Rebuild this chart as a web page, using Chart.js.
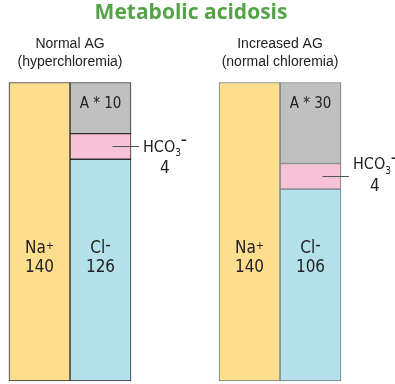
<!DOCTYPE html>
<html>
<head>
<meta charset="utf-8">
<script src="https://cdn.jsdelivr.net/npm/chart.js@4.4.1/dist/chart.umd.min.js"></script>
<style>
  html, body { margin: 0; padding: 0; background: #fff; }
</style>
</head>
<body>
<canvas id="chart" width="395" height="384"></canvas>
<script>
// groups (shown above the columns)
const groups = [['Normal AG', '(hyperchloremia)'], ['Increased AG', '(normal chloremia)']];

// printed values, mEq/L
const naValues = [140, 140];
const clValues = [126, 106];
const hco3Values = [4, 4];
const gapValues = [10, 30];

// segment heights as drawn in the picture (schematic, Na column = 140)
const naHeights = [140, 140];
const clHeights = [104, 90];
const hco3Heights = [12, 12];
const gapHeights = [24, 38];

const NARROW = "'Liberation Sans Narrow', 'DejaVu Sans Condensed', 'Liberation Sans', sans-serif";
const borders = ['#2e2e2e', '#707c7c'];

// text with a small raised/lowered part after it, centred on cx
function drawParts(ctx, parts, cx, cy) {
    let total = 0;
    parts.forEach(p => {
        ctx.font = p.font;
        p.w = ctx.measureText(p.text).width;
        total += p.w;
    });
    let x = cx - total / 2;
    ctx.textAlign = 'left';
    parts.forEach(p => {
        ctx.font = p.font;
        ctx.fillText(p.text, x, cy + (p.dy || 0));
        x += p.w;
    });
    return total;
}

const barLabels = {
    id: 'barLabels',
    afterDatasetsDraw(chart) {
        const ctx = chart.ctx;
        const na = chart.getDatasetMeta(0).data;
        const cl = chart.getDatasetMeta(1).data;
        const hc = chart.getDatasetMeta(2).data;
        const ag = chart.getDatasetMeta(3).data;
        const hcoShift = [1, -11];

        ctx.save();
        ctx.fillStyle = '#222';
        ctx.textBaseline = 'middle';

        for (let i = 0; i < groups.length; i++) {
            const mid = (na[i].y + na[i].base) / 2;
            const row1 = mid + 17;
            const row2 = mid + 36;

            // Na+
            drawParts(ctx, [
                { text: 'Na', font: '17px ' + NARROW },
                { text: '+', font: '11px ' + NARROW, dy: -3 }
            ], na[i].x, row1);
            ctx.font = '17px ' + NARROW;
            ctx.textAlign = 'center';
            ctx.fillText(String(naValues[i]), na[i].x, row2);

            // Cl-
            drawParts(ctx, [
                { text: 'Cl', font: '17px ' + NARROW },
                { text: '-', font: '17px ' + NARROW, dy: -3 }
            ], cl[i].x, row1);
            ctx.font = '17px ' + NARROW;
            ctx.textAlign = 'center';
            ctx.fillText(String(clValues[i]), cl[i].x, row2);

            // anion gap
            ctx.font = '15px ' + NARROW;
            ctx.textAlign = 'center';
            ctx.fillText('A * ' + gapValues[i], ag[i].x, ag[i].y + 22);

            // HCO3- with leader line
            const hy = (hc[i].y + hc[i].base) / 2;
            const right = hc[i].x + hc[i].width / 2;
            ctx.strokeStyle = '#555';
            ctx.lineWidth = 1;
            ctx.beginPath();
            ctx.moveTo(hc[i].x + 12, Math.round(hy) + 0.5);
            ctx.lineTo(right + 8, Math.round(hy) + 0.5);
            ctx.stroke();

            const ty = hy + hcoShift[i];
            const parts = [
                { text: 'HCO', font: '16px ' + NARROW },
                { text: '3', font: '10px ' + NARROW, dy: 6 },
                { text: '\u2013', font: 'bold 13px ' + NARROW, dy: -7 }
            ];
            let w = 0;
            parts.forEach(p => { ctx.font = p.font; w += ctx.measureText(p.text).width; });
            const tcx = right + 12 + w / 2;
            drawParts(ctx, parts, tcx, ty);
            ctx.font = '17px ' + NARROW;
            ctx.textAlign = 'center';
            ctx.fillText(String(hco3Values[i]), tcx, ty + 21);
        }
        ctx.restore();
    }
};

const common = { stack: 'anion', borderWidth: 1, borderColor: borders, borderSkipped: false, clip: false };

new Chart(document.getElementById('chart'), {
    type: 'bar',
    data: {
        labels: groups,
        datasets: [
            { label: 'Na+', data: naHeights, stack: 'cation', backgroundColor: '#fddd8e',
              borderWidth: 1, borderColor: borders, borderSkipped: false, clip: false },
            Object.assign({ label: 'Cl-', data: clHeights, backgroundColor: '#b5e1ea' }, common),
            Object.assign({ label: 'HCO3-', data: hco3Heights, backgroundColor: '#f6c2d6' }, common),
            Object.assign({ label: 'A', data: gapHeights, backgroundColor: '#c0c0c0' }, common)
        ]
    },
    options: {
        responsive: false,
        animation: false,
        barThickness: 61,
        layout: { padding: { left: 70, right: 83, top: 0, bottom: 3 } },
        plugins: {
            legend: { display: false },
            tooltip: { enabled: false },
            title: {
                display: true,
                text: 'Metabolic acidosis',
                color: '#54a447',
                font: { family: 'Open Sans', size: 21, weight: 'bold', lineHeight: 1.1 },
                padding: { top: 1, bottom: 0 }
            }
        },
        scales: {
            x: {
                position: 'top',
                stacked: true,
                offset: false,
                grid: { display: false, drawTicks: false },
                border: { display: false },
                ticks: {
                    color: '#222',
                    padding: 11,
                    maxRotation: 0,
                    autoSkip: false,
                    font: { family: 'Liberation Sans', size: 14, lineHeight: 1.3 }
                }
            },
            y: {
                position: 'right',
                stacked: true,
                min: 0,
                max: 140,
                grid: { display: false },
                border: { display: false },
                ticks: { display: false },
                afterFit(scale) { scale.width = 32; }
            }
        }
    },
    plugins: [barLabels]
});
</script>
</body>
</html>
